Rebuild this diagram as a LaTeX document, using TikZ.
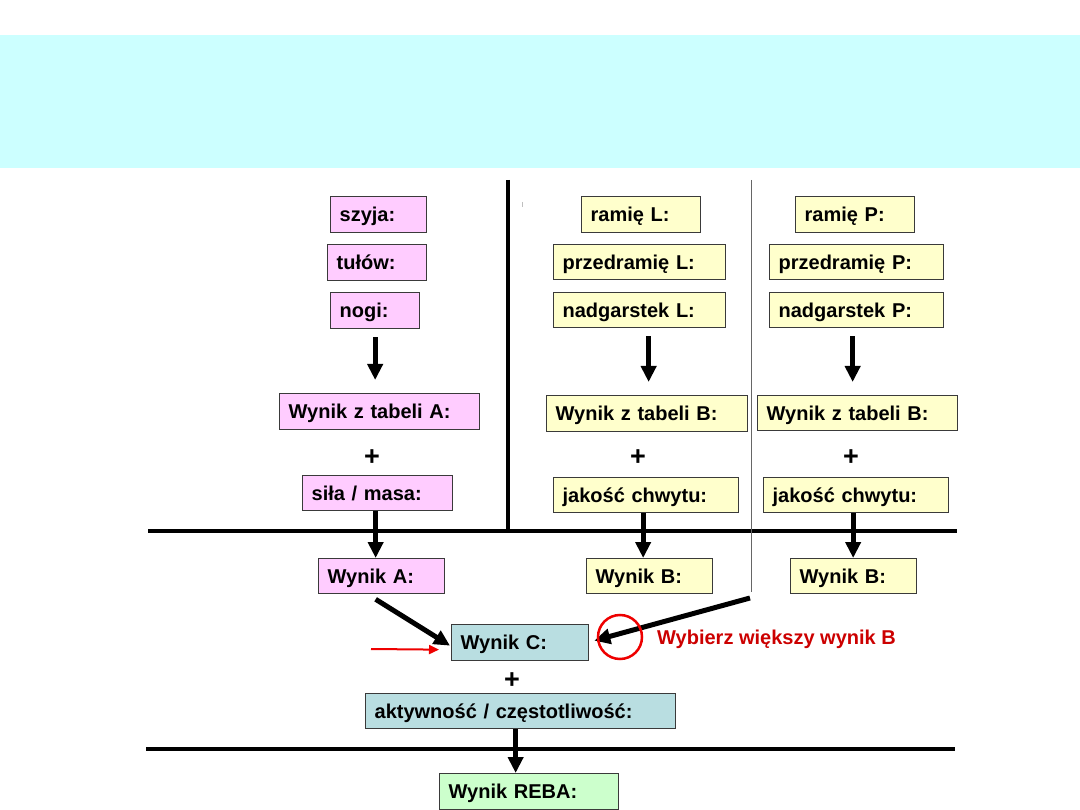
\documentclass[tikz,border=0pt]{standalone}
\usepackage{fontspec}
\setmainfont{Liberation Sans}
\usetikzlibrary{arrows.meta,calc}
\definecolor{bandc}{HTML}{CCFFFF}
\definecolor{pinkc}{HTML}{FFCCFF}
\definecolor{yellc}{HTML}{FFFFCC}
\definecolor{tealc}{HTML}{B9DEE1}
\definecolor{greenc}{HTML}{CCFFCC}
\definecolor{bordc}{HTML}{3A3A3A}
\definecolor{redtxt}{HTML}{CC0000}
\definecolor{redc}{HTML}{EE0000}
\newcommand{\lbl}{\bfseries\fontsize{20}{22}\selectfont}
\newcommand{\pls}{\bfseries\fontsize{27}{28}\selectfont}
\tikzset{
  bx/.style={draw=bordc, line width=1.3pt, inner xsep=9pt, inner ysep=0pt,
    minimum height=36pt, text height=16pt, text depth=2pt,
    anchor=north west, align=left, font=\lbl},
  pk/.style={bx, fill=pinkc},
  yl/.style={bx, fill=yellc},
  tl/.style={bx, fill=tealc},
  gr/.style={bx, fill=greenc},
  bigarr/.style={line width=5pt, -{Triangle[length=16pt,width=15pt]}},
  redarr/.style={line width=2pt, redc, -{Triangle[length=10pt,width=9pt]}},
  thickline/.style={line width=4pt},
  plus/.style={font=\pls, inner sep=0pt}
}
\begin{document}
\begin{tikzpicture}[x=1pt,y=-1pt]
\useasboundingbox (0,0) rectangle (1080,810);
\fill[bandc] (0,35) rectangle (1080,168);

% separator lines
\draw[thickline] (148,531) -- (957,531);
\draw[thickline] (146,749) -- (955,749);
\draw[thickline] (508,180) -- (508,531);
\coordinate (thintop) at (751,180);
\coordinate (thinbot) at (751,592);
\draw[line width=1pt, black!60] (thintop) -- (thinbot);
\draw[black!25, line width=1pt] (522,202) -- (522,207);

% left column
\node[pk, text width=78pt] (szyja) at (330,196) {szyja:};
\node[pk, text width=81pt] (tulow) at (327,244) {tułów:};
\node[pk, text width=71pt] (nogi) at (330,292) {nogi:};
\node[pk, text width=182pt] (wta) at (279,393) {Wynik z tabeli A:};
\node[plus] (plA) at (372,458) {+};
\node[pk, text width=132pt, minimum height=35pt] (sila) at (302,475) {siła / masa:};
\node[pk, text width=108pt, minimum height=35pt] (wa) at (318,558) {Wynik A:};

% middle column
\node[yl, text width=101pt] (ramL) at (581,196) {ramię L:};
\node[yl, text width=154pt, minimum height=35pt] (przL) at (553,244) {przedramię L:};
\node[yl, text width=154pt, minimum height=35pt] (nadL) at (553,292) {nadgarstek L:};
\node[yl, text width=183pt] (wtbL) at (546,395) {Wynik z tabeli B:};
\node[plus] (plL) at (638,458) {+};
\node[yl, text width=167pt, minimum height=35pt] (jakL) at (553,477) {jakość chwytu:};
\node[yl, text width=108pt, minimum height=35pt] (wbL) at (586,558) {Wynik B:};

% right column
\node[yl, text width=101pt] (ramP) at (795,196) {ramię P:};
\node[yl, text width=156pt, minimum height=35pt] (przP) at (769,244) {przedramię P:};
\node[yl, text width=156pt, minimum height=35pt] (nadP) at (769,292) {nadgarstek P:};
\node[yl, text width=182pt, minimum height=35pt] (wtbR) at (757,395) {Wynik z tabeli B:};
\node[plus] (plR) at (851,458) {+};
\node[yl, text width=167pt, minimum height=35pt] (jakR) at (763,477) {jakość chwytu:};
\node[yl, text width=108pt, minimum height=35pt] (wbR) at (790,558) {Wynik B:};

% bottom
\node[tl, text width=119pt] (wc) at (451,624) {Wynik C:};
\node[plus] (plC) at (512,681) {+};
\node[tl, text width=292pt, minimum height=35pt] (akt) at (365,693) {aktywność / częstotliwość:};
\node[gr, text width=161pt] (reba) at (439,773) {Wynik REBA:};

% arrows
\draw[bigarr] ([yshift=-8pt]nogi.south) -- ([yshift=13pt]nogi.south |- wta.north);
\draw[bigarr] ([xshift=9pt,yshift=-8pt]nadL.south) -- ([xshift=9pt,yshift=13pt]nadL.south |- wtbL.north);
\draw[bigarr] ([xshift=-4pt,yshift=-8pt]nadP.south) -- ([xshift=-4pt,yshift=13pt]nadP.south |- wtbR.north);
\draw[bigarr] ([xshift=-2pt]sila.south) -- ([xshift=-2pt]sila.south |- wa.north);
\draw[bigarr] ([xshift=-3pt]jakL.south) -- ([xshift=-3pt]jakL.south |- wbL.north);
\draw[bigarr] ([xshift=-3pt]jakR.south) -- ([xshift=-3pt]jakR.south |- wbR.north);
\draw[bigarr] ([xshift=-5pt]akt.south) -- ([xshift=-5pt]akt.south |- reba.north);
\draw[bigarr] ([xshift=-6pt,yshift=-5pt]wa.south) -- ([xshift=-1pt,yshift=-3pt]wc.west);
\draw[bigarr] ([xshift=-1pt,yshift=-6pt]thinbot) -- ([xshift=5pt,yshift=2pt]wc.east);

% red annotation
\coordinate (redstart) at (371,649);
\draw[redarr] (redstart) -- ([xshift=-12pt,yshift=-7pt]wc.west);
\node[draw=redc, circle, line width=2.5pt, minimum size=44pt, inner sep=0pt] (circ) at (620,637) {};
\node[anchor=base west, inner sep=0pt, text=redtxt, font=\lbl] (note) at (657,644) {Wybierz większy wynik B};
\end{tikzpicture}
\end{document}
